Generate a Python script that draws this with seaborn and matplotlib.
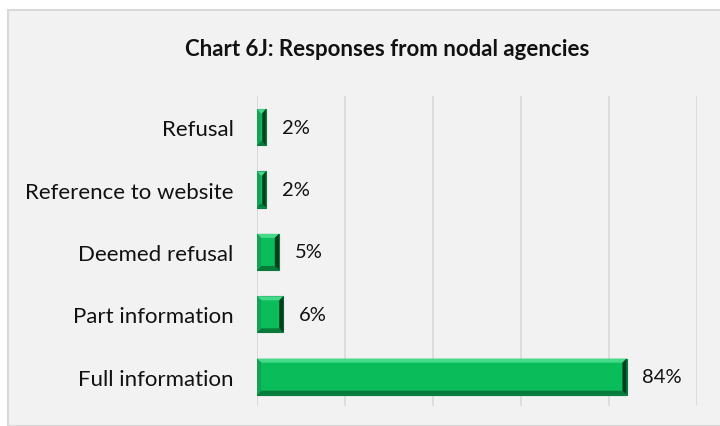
import matplotlib
matplotlib.use("Agg")
import matplotlib.pyplot as plt
import matplotlib.patches as mpatches
import seaborn as sns
import pandas as pd

# Chart data
categories = ["Refusal", "Reference to website", "Deemed refusal",
              "Part information", "Full information"]
shares = [2, 2, 5, 6, 84]

df = pd.DataFrame({"category": categories, "share": shares})

sns.set_style("white")
plt.rcParams["font.family"] = ["Lato", "DejaVu Sans"]

bg = "#f2f2f2"
fig = plt.figure(figsize=(7.2, 4.27), dpi=100)
fig.patch.set_facecolor("white")

# outer chart panel with thin grey border
panel = mpatches.Rectangle((8 / 720, 0), 1, 1 - 11 / 427, transform=fig.transFigure,
                           facecolor=bg, edgecolor="#d9d9d9", linewidth=1.5, zorder=-10)
fig.patches.append(panel)

ax = fig.add_axes([257 / 720, 20 / 427, 440 / 720, 310 / 427])
ax.set_zorder(1)
ax.set_facecolor(bg)

sns.barplot(data=df, x="share", y="category", orient="h", ax=ax,
            color="#0abd5a", width=0.58, edgecolor="#0a7a3c", linewidth=0.8,
            saturation=1, zorder=3)
ax.set_xlim(0, 100)
ax.set_ylim(4.47, -0.5)

# bevel look: light top/left, dark bottom/right
bx = 0.95   # ~4px in x units
by = 0.065  # ~4px in y units
for p, v in zip(ax.patches, shares):
    x0, y0 = p.get_x(), p.get_y()
    w, h = p.get_width(), p.get_height()
    x1, y1 = x0 + w, y0 + h   # y1 is visually the bottom (inverted axis)
    ex = min(bx, w / 2.5)
    top = [(x0, y0), (x1, y0), (x1 - ex, y0 + by), (x0 + ex, y0 + by)]
    bot = [(x0, y1), (x1, y1), (x1 - ex, y1 - by), (x0 + ex, y1 - by)]
    left = [(x0, y0), (x0 + ex, y0 + by), (x0 + ex, y1 - by), (x0, y1)]
    right = [(x1, y0), (x1 - ex, y0 + by), (x1 - ex, y1 - by), (x1, y1)]
    for pts, c in [(top, "#45d98a"), (bot, "#077a3a"), (left, "#14a255"), (right, "#053d1e")]:
        ax.add_patch(mpatches.Polygon(pts, closed=True, facecolor=c, edgecolor="none", zorder=4))
    ax.text(x1 + 3.6, y0 + h / 2, f"{v}%",
            va="center", ha="left", fontsize=14.5, color="#111111")

ax.set_xticks([0, 20, 40, 60, 80, 100])
ax.set_xticklabels([])
ax.tick_params(axis="x", length=0)
ax.tick_params(axis="y", length=0, labelsize=16, pad=17, labelcolor="#111111")
ax.xaxis.grid(True, color="#d9d9d9", linewidth=1.2, zorder=0)
ax.set_axisbelow(True)
ax.set_xlabel("")
ax.set_ylabel("")
for s in ax.spines.values():
    s.set_visible(False)
ax.axvline(0, color="#d9d9d9", linewidth=1.2, zorder=1)

fig.text(387 / 720, 1 - 50 / 427, "Chart 6J: Responses from nodal agencies",
         ha="center", va="center", fontsize=16, fontweight="bold", color="#111111")

fig.savefig("out.png", dpi=100, facecolor=fig.get_facecolor())
